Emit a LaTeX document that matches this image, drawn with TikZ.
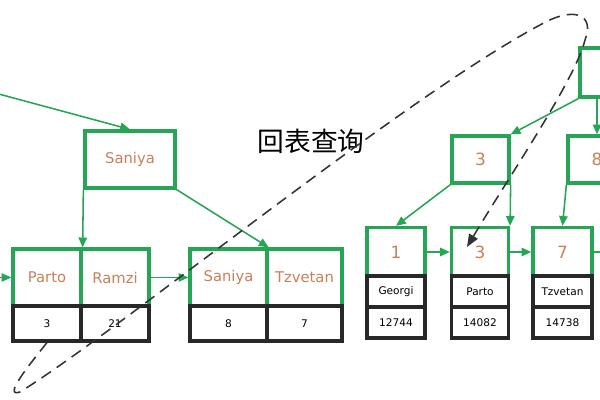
\documentclass[tikz,border=0pt]{standalone}
\usepackage{fontspec}
\setmainfont{DejaVu Sans}
\newfontfamily\cjkfont{Noto Sans CJK SC}
\usetikzlibrary{arrows.meta,calc}
\definecolor{boxgreen}{RGB}{38,166,84}
\definecolor{keyorange}{RGB}{200,128,88}
\definecolor{rowblack}{RGB}{40,40,40}
\tikzset{
	keybox/.style={draw=boxgreen,line width=2.3pt,text=keyorange,font=\fontsize{10.5}{12}\selectfont,inner sep=0pt},
	numkey/.style={keybox,font=\fontsize{12}{14}\selectfont},
	datarow/.style={draw=rowblack,line width=2.2pt,font=\fontsize{7.5}{9}\selectfont,inner sep=0pt},
	link/.style={draw=boxgreen,line width=1.1pt,-{Triangle[length=7pt,width=6pt]}},
	backlink/.style={draw=black!80,line width=1.1pt,dash pattern=on 8pt off 5pt,-{Triangle[length=9pt,width=7pt]}}
}
\begin{document}
\begin{tikzpicture}[x=0.025cm,y=-0.025cm]
	\useasboundingbox (0,0) rectangle (600,400);
	\clip (0,0) rectangle (600,400);

	\node[keybox,minimum width=2.25cm,minimum height=1.425cm] (inner) at (130,159.5) {Saniya};
	\node[keybox,minimum width=1.7cm,minimum height=1.425cm] (parto) at (47,277.5) {Parto};
	\node[keybox,minimum width=1.7cm,minimum height=1.425cm] (ramzi) at (115,277.5) {Ramzi};
	\node[keybox,minimum width=1.925cm,minimum height=1.425cm] (saniya) at (228.5,277.5) {Saniya};
	\node[keybox,minimum width=1.875cm,minimum height=1.425cm] (tzvetan) at (304.5,277.5) {Tzvetan};
	\node[datarow,minimum width=1.7cm,minimum height=0.875cm] (idparto) at (47,323.5) {3};
	\node[datarow,minimum width=1.7cm,minimum height=0.875cm] (idramzi) at (115,323.5) {21};
	\node[datarow,minimum width=1.925cm,minimum height=0.875cm] (idsaniya) at (228.5,323.5) {8};
	\node[datarow,minimum width=1.875cm,minimum height=0.875cm] (idtzvetan) at (304.5,323.5) {7};

	\coordinate (fromleft) at (-5,93);
	\coordinate (prevleaf) at (-5,277.5);
	\draw[link] (fromleft) -- (inner.north);
	\draw[link] (inner.south west) -- (parto.north east);
	\draw[link] (inner.south east) -- (saniya.north east);
	\draw[link] (prevleaf) -- (parto.west);
	\draw[link] (ramzi.east) -- (saniya.west);

	\node[numkey,minimum width=1.45cm,minimum height=1.225cm] (root) at (609,72.5) {};
	\node[numkey,minimum width=1.425cm,minimum height=1.175cm] (mid3) at (480.5,159.5) {3};
	\node[numkey,minimum width=1.45cm,minimum height=1.175cm] (mid8) at (597,159.5) {8};
	\node[numkey,minimum width=1.45cm,minimum height=1.225cm] (key1) at (396,252) {1};
	\node[numkey,minimum width=1.425cm,minimum height=1.225cm] (key3) at (480,252) {3};
	\node[numkey,minimum width=1.475cm,minimum height=1.225cm] (key7) at (562.5,252) {7};
	\node[datarow,minimum width=1.45cm,minimum height=0.775cm] (name1) at (396,291.5) {Georgi};
	\node[datarow,minimum width=1.425cm,minimum height=0.775cm] (name3) at (480,291.5) {Parto};
	\node[datarow,minimum width=1.475cm,minimum height=0.775cm] (name7) at (562.5,291.5) {Tzvetan};
	\node[datarow,minimum width=1.45cm,minimum height=0.775cm] (emp1) at (396,322.5) {12744};
	\node[datarow,minimum width=1.425cm,minimum height=0.775cm] (emp3) at (480,322.5) {14082};
	\node[datarow,minimum width=1.475cm,minimum height=0.775cm] (emp7) at (562.5,322.5) {14738};

	\coordinate (nextleaf) at (610,252);
	\draw[link] (root.south west) -- (mid3.north east);
	\draw[link] (mid8.north |- root.south) -- (mid8.north);
	\draw[link] (mid3.south west) -- (key1.north);
	\draw[link] (mid3.south east) -- (key3.north east);
	\draw[link] (mid8.south west) -- (key7.north);
	\draw[link] (key1.east) -- (key3.west);
	\draw[link] (key3.east) -- (key7.west);
	\draw[link] (key7.east) -- (nextleaf);

	\node[font=\cjkfont\fontsize{19}{22}\selectfont] (title) at (311,141.5) {回表查询};

	\coordinate (backtip) at ($(key3.center)+(-13,-5)$);
	\draw[backlink] (idparto.south) .. controls (30,364) and (2,398) .. (20,392)
		.. controls (120,330) and (400,100) .. (540,25)
		.. controls (575,5) and (595,15) .. (585,40)
		.. controls (575,80) and (510,175) .. (backtip);
\end{tikzpicture}
\end{document}
